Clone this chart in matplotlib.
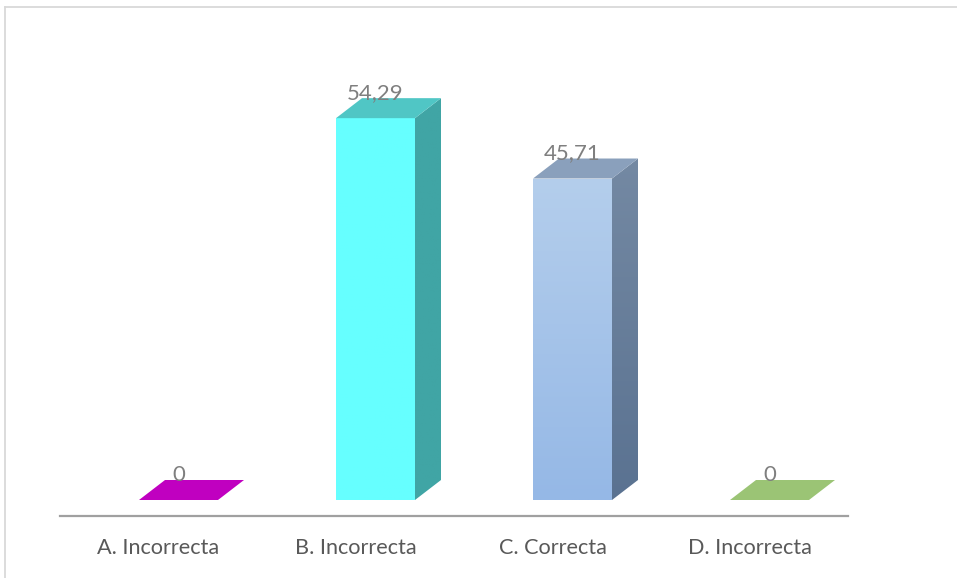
import matplotlib
matplotlib.use("Agg")
import matplotlib.pyplot as plt
from matplotlib.patches import Polygon, Rectangle
from matplotlib.colors import LinearSegmentedColormap
import numpy as np

# Survey answers: share of responses per option (%)
categories = ["A. Incorrecta", "B. Incorrecta", "C. Correcta", "D. Incorrecta"]
values = [0, 54.29, 45.71, 0]
value_labels = ["0", "54,29", "45,71", "0"]

# Face colours of each 3D column (front gradient, top, side gradient)
front_top = ["#C000C0", "#66FFFF", "#B4CEEC", "#9BC475"]
front_bottom = ["#C000C0", "#66FFFF", "#95B8E6", "#9BC475"]
top_face = ["#C000C0", "#50C6C5", "#8AA0BC", "#9BC475"]
side_top = ["#900090", "#40A5A5", "#7489A3", "#749358"]
side_bottom = ["#900090", "#40A5A5", "#5A7291", "#749358"]

W, H = 957, 578
fig = plt.figure(figsize=(W / 100, H / 100), dpi=100)
fig.patch.set_facecolor("white")

# light chart-area frame
fig.add_artist(plt.Line2D([4.5 / W, 4.5 / W], [0, 1 - 6.5 / H], transform=fig.transFigure,
                          color="#D9D9D9", lw=1.3))
fig.add_artist(plt.Line2D([4.5 / W, 1], [1 - 6.5 / H, 1 - 6.5 / H], transform=fig.transFigure,
                          color="#D9D9D9", lw=1.3))

ax_left, ax_right = 60, 848
ax_bottom_px, ax_top_px = 516, 78
ax = fig.add_axes([ax_left / W, 1 - ax_bottom_px / H,
                   (ax_right - ax_left) / W, (ax_bottom_px - ax_top_px) / H])

y_top = 60.0
px_per_unit = (500 - 78) / y_top          # floor of the columns at 500 px
y_floor_gap = (ax_bottom_px - 500) / px_per_unit
ax.set_xlim(-0.5, len(categories) - 0.5)
ax.set_ylim(-y_floor_gap, y_top)

band_px = (ax_right - ax_left) / len(categories)
bar_w = 79 / band_px
shift = 20 / band_px
dx = 26 / band_px
dy = 20 / px_per_unit

for i, v in enumerate(values):
    x0 = i + shift - bar_w / 2
    x1 = x0 + bar_w
    # front face with vertical gradient
    if v > 0:
        rect = Rectangle((x0, 0), bar_w, v, facecolor="none", edgecolor="none")
        ax.add_patch(rect)
        cmap = LinearSegmentedColormap.from_list("f%d" % i, [front_bottom[i], front_top[i]])
        grad = np.linspace(0, 1, 256).reshape(-1, 1)
        im = ax.imshow(grad, cmap=cmap, origin="lower", aspect="auto",
                       extent=(x0, x1, 0, v), zorder=2)
        im.set_clip_path(rect)
        # side face
        side = Polygon([(x1, 0), (x1 + dx, dy), (x1 + dx, v + dy), (x1, v)],
                       closed=True, facecolor="none", edgecolor="none")
        ax.add_patch(side)
        cmap_s = LinearSegmentedColormap.from_list("s%d" % i, [side_bottom[i], side_top[i]])
        im2 = ax.imshow(grad, cmap=cmap_s, origin="lower", aspect="auto",
                        extent=(x1, x1 + dx, 0, v + dy), zorder=2)
        im2.set_clip_path(side)
    # top face
    top = Polygon([(x0, v), (x1, v), (x1 + dx, v + dy), (x0 + dx, v + dy)],
                  closed=True, facecolor=top_face[i], edgecolor="none", zorder=3)
    ax.add_patch(top)
    ax.annotate(value_labels[i], xy=(i + shift, v), xytext=(0, 25),
                textcoords="offset pixels", ha="center", va="center",
                fontsize=16, color="#7F7F7F", family="Lato", zorder=4)

ax.set_xticks(range(len(categories)))
ax.set_xticklabels(categories, fontsize=15.6, color="#595959", family="Lato")
ax.tick_params(axis="x", length=0, pad=15.5)
ax.set_yticks([])
for s in ["left", "right", "top"]:
    ax.spines[s].set_visible(False)
ax.spines["bottom"].set_color("#A0A0A0")
ax.spines["bottom"].set_linewidth(1.6)
ax.set_facecolor("none")

fig.savefig("out.png", dpi=100, facecolor="white")
